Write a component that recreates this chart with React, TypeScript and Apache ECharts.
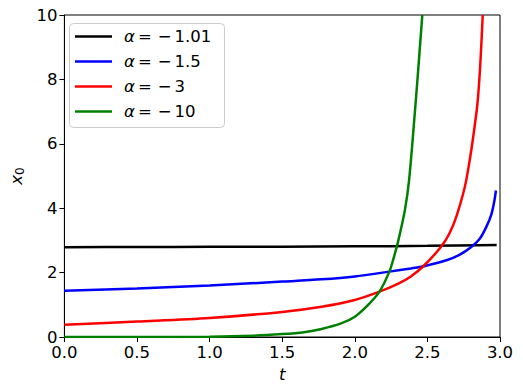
import React, { useEffect, useRef } from 'react';
import * as echarts from 'echarts';

const alphaLabels = ['−1.01', '−1.5', '−3', '−10'];
const lineColors = ['#000000', '#0000ff', '#ff0000', '#008000'];

const tBlack = [0, 0.5, 1.0, 1.5, 2.0, 2.5, 2.977];
const xBlack = [2.79, 2.795, 2.8, 2.805, 2.815, 2.83, 2.86];

const tBlue = [0, 0.5, 1.0, 1.5, 1.772, 2.0, 2.238, 2.386, 2.477, 2.636, 2.72, 2.795, 2.863, 2.909, 2.94, 2.96, 2.972];
const xBlue = [1.44, 1.51, 1.6, 1.72, 1.79, 1.88, 2.03, 2.13, 2.2, 2.39, 2.55, 2.77, 3.07, 3.45, 3.8, 4.2, 4.55];

const tRed = [0, 0.5, 1.0, 1.5, 1.772, 2.0, 2.17, 2.3, 2.386, 2.477, 2.59, 2.65, 2.704, 2.768, 2.84, 2.862, 2.881];
const xRed = [0.38, 0.48, 0.59, 0.78, 0.94, 1.15, 1.41, 1.66, 1.88, 2.22, 2.78, 3.2, 3.8, 4.88, 7.05, 8.3, 10];

const tGreen = [0, 0.5, 1.0, 1.3, 1.5, 1.65, 1.772, 1.91, 2.0, 2.09, 2.17, 2.238, 2.27, 2.3, 2.345, 2.374, 2.415, 2.44, 2.465];
const xGreen = [0, 0.0, 0.01, 0.04, 0.09, 0.15, 0.25, 0.43, 0.63, 0.99, 1.41, 2.03, 2.49, 3.0, 3.94, 4.88, 7.05, 8.5, 10];

const xTicks = [0, 0.5, 1.0, 1.5, 2.0, 2.5, 3.0];
const yTicks = [0, 2, 4, 6, 8, 10];

const FONT = 'DejaVu Sans';
const FS = 16.5;

export default function App() {
  const ref = useRef<HTMLDivElement>(null);
  useEffect(() => {
    if (!ref.current) return;
    const chart = echarts.init(ref.current, null, { renderer: 'svg' });
    const ts = [tBlack, tBlue, tRed, tGreen];
    const xs = [xBlack, xBlue, xRed, xGreen];
    const series = alphaLabels.map((a, i) => ({
      name: a,
      type: 'line',
      data: ts[i].map((t, j) => [t, xs[i][j]]),
      showSymbol: false,
      symbol: 'none',
      smooth: 0.3,
      color: lineColors[i],
      lineStyle: { color: lineColors[i], width: 2.5 },
      itemStyle: { color: lineColors[i] },
      z: 2 + i,
    }));
    chart.setOption({
      animation: false,
      backgroundColor: '#ffffff',
      textStyle: { fontFamily: FONT },
      grid: {
        left: 60,
        right: 23,
        top: 15,
        bottom: 55,
        show: true,
        borderColor: '#000000',
        borderWidth: 1,
        backgroundColor: 'transparent',
      },
      xAxis: {
        type: 'value',
        min: 0,
        max: 3,
        interval: 0.5,
        name: 't',
        nameLocation: 'middle',
        nameGap: 27,
        nameTextStyle: { fontFamily: FONT, fontSize: FS, fontStyle: 'italic', color: '#000' },
        axisLine: { show: true, onZero: false, lineStyle: { color: '#000', width: 1 } },
        axisTick: { show: true, length: 5, inside: false, lineStyle: { color: '#000' } },
        splitLine: { show: false },
        axisLabel: {
          margin: 10,
          fontFamily: FONT,
          fontSize: FS,
          lineHeight: 11,
          color: '#000',
          formatter: (v: number) => (xTicks.includes(v) ? v.toFixed(1) : ''),
        },
      },
      yAxis: {
        type: 'value',
        min: 0,
        max: 10,
        interval: 2,
        name: '{x|x}{s|0}',
        nameLocation: 'middle',
        nameGap: 38,
        nameRotate: 90,
        nameTextStyle: {
          color: '#000',
          rich: {
            x: { fontFamily: FONT, fontSize: FS, fontStyle: 'italic', color: '#000' },
            s: { fontFamily: FONT, fontSize: 12, color: '#000', padding: [6, 0, 0, 0] },
          },
        },
        axisLine: { show: true, onZero: false, lineStyle: { color: '#000', width: 1 } },
        axisTick: { show: true, length: 5, inside: false, lineStyle: { color: '#000' } },
        splitLine: { show: false },
        axisLabel: {
          margin: 7,
          fontFamily: FONT,
          fontSize: FS,
          lineHeight: 10,
          color: '#000',
          formatter: (v: number) => (yTicks.includes(v) ? String(v) : ''),
        },
      },
      graphic: [
        {
          type: 'rect',
          z: 10,
          shape: { x: 69.5, y: 23.5, width: 155, height: 104, r: 4 },
          style: { fill: 'rgba(255,255,255,0.8)', stroke: '#cccccc', lineWidth: 1 },
        },
      ],
      legend: {
        z: 20,
        orient: 'vertical',
        left: 70,
        top: 28,
        padding: [0, 0, 0, 5],
        itemWidth: 37,
        itemHeight: 2.5,
        itemGap: 8,
        icon: 'rect',
        data: alphaLabels,
        formatter: (name: string) => `{a|α}{e|=}{m|−}${name.replace('−', '')}`,
        textStyle: {
          fontFamily: FONT,
          fontSize: FS,
          lineHeight: 17,
          color: '#000',
          padding: [0, 0, 0, 7],
          rich: {
            a: { fontFamily: FONT, fontSize: FS, fontStyle: 'italic', color: '#000', lineHeight: 17 },
            e: { fontFamily: FONT, fontSize: FS, color: '#000', padding: [0, 6, 0, 3], lineHeight: 17 },
            m: { fontFamily: FONT, fontSize: FS, color: '#000', padding: [0, 3, 0, 0], lineHeight: 17 },
          },
        },
      },
      series,
    });
    return () => chart.dispose();
  }, []);
  return <div ref={ref} style={{ width: 523, height: 392, margin: -8 }} />;
}
